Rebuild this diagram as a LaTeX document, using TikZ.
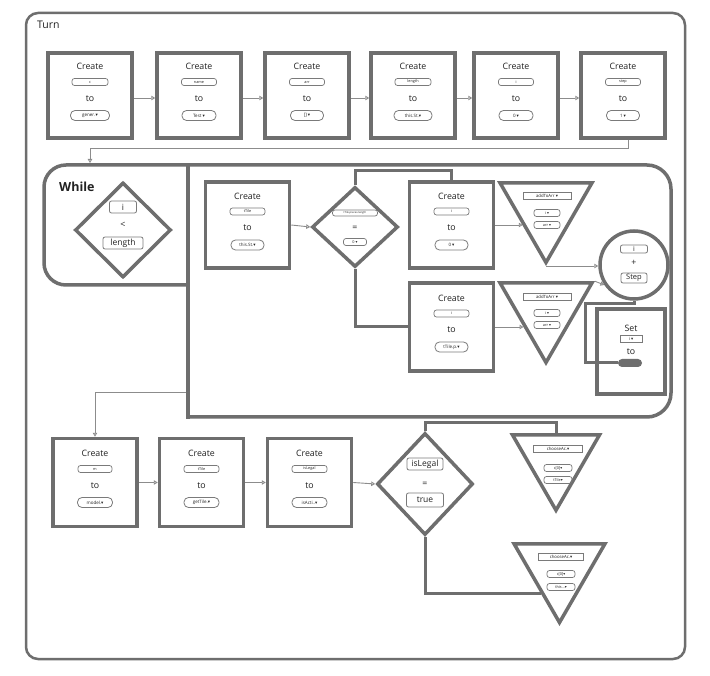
\documentclass[tikz,border=0pt]{standalone}
\usepackage{fontspec}
\setmainfont{Open Sans}
\newfontfamily\symf{DejaVu Sans}
\usetikzlibrary{shapes.geometric,arrows.meta,calc}
\newcommand\dd{{\symf\char"25BE}}
\definecolor{bd}{HTML}{6E6E6E}
\definecolor{cn}{HTML}{8C8C8C}
\definecolor{pl}{HTML}{7A7A7A}
\definecolor{tx}{HTML}{222222}
\tikzset{
 blk/.style={draw=bd, line width=3.5pt, minimum width=84pt, minimum height=86pt, inner sep=0pt, fill=white},
 lbl/.style={font=\fontsize{8.8}{10}\selectfont, inner sep=0pt, text=tx},
 vp/.style={draw=pl, line width=0.7pt, rounded corners=2.5pt, minimum width=#1, minimum height=7pt, inner sep=0pt, font=\fontsize{3.8}{4}\selectfont, text=tx},
 lp/.style={draw=pl, line width=0.8pt, rounded corners=4.5pt, minimum width=#1, minimum height=10pt, inner sep=0pt, font=\fontsize{4.5}{5}\selectfont, text=tx},
 bx/.style={draw=pl, line width=0.6pt, minimum width=#1, minimum height=7pt, inner sep=0pt, font=\fontsize{4.3}{4.5}\selectfont, text=tx},
 mp/.style={draw=pl, line width=0.8pt, rounded corners=2pt, minimum width=#1, minimum height=12pt, inner sep=0pt, font=\fontsize{8.5}{9}\selectfont, text=tx},
 dia/.style={diamond, draw=bd, line width=3.5pt, inner sep=0pt, fill=white},
 tri/.style={regular polygon, regular polygon sides=3, shape border rotate=180, draw=bd, line width=3.5pt, inner sep=0pt, fill=white},
 conn/.style={draw=cn, line width=0.9pt, -{Triangle[open,length=4pt,width=4.5pt]}},
 thk/.style={draw=bd, line width=3pt},
 wall/.style={draw=bd, line width=3.5pt, line cap=rect},
}
\newcommand\mkcreate[8]{%
 \node[blk, minimum height=#8] (#1) at (#2,#3) {};
 \node[lbl] (#1h) at (#2,#3-29) {Create};
 \node[vp=#6] (#1v) at (#2,#3-13.5) {#4};
 \node[lbl] (#1t) at (#2,#3+3) {to};
 \node[lp=#7] (#1w) at (#2,#3+20) {#5};
}
\begin{document}
\begin{tikzpicture}[x=1pt,y=-1pt]
\useasboundingbox (0,0) rectangle (710,676);
\fill[white] (0,0) rectangle (710,676);
% Turn frame
\node[draw=bd, line width=2.5pt, rounded corners=12pt, minimum width=659pt, minimum height=646pt, inner sep=0pt] (turn) at (355.5,336) {};
\node[anchor=west, inner sep=0pt, font=\fontsize{10.5}{12}\selectfont, text=tx] (turnl) at (37,25) {Turn};
% top row
\mkcreate{b1}{90}{95.5}{c}{gener.\dd}{36pt}{39pt}{85pt}
\mkcreate{b2}{199}{95.5}{name}{Test \dd}{35pt}{34pt}{85pt}
\mkcreate{b3}{307}{95.5}{arr}{[] \dd}{35pt}{33pt}{85pt}
\mkcreate{b4}{413}{95.5}{length}{this.St.\dd}{36pt}{38pt}{85pt}
\mkcreate{b5}{516}{95.5}{i}{0 \dd}{35pt}{34pt}{85pt}
\mkcreate{b6}{623}{95.5}{step}{1 \dd}{35pt}{33pt}{85pt}
\draw[conn] ([yshift=-2.5pt]b1.east) -- ([yshift=-2.5pt]b2.west);
\draw[conn] ([yshift=-2.5pt]b2.east) -- ([yshift=-2.5pt]b3.west);
\draw[conn] ([yshift=-2.5pt]b3.east) -- ([yshift=-2.5pt]b4.west);
\draw[conn] ([yshift=-2.5pt]b4.east) -- ([yshift=-2.5pt]b5.west);
\draw[conn] ([yshift=-2.5pt]b5.east) -- ([yshift=-2.5pt]b6.west);
% While block
\coordinate (wtop) at (90,163);
\coordinate (wexit) at (186,392);
\draw[wall, rounded corners=22pt] (188,285) -- (44,285) -- (44,165) -- (188,165);
\draw[wall, rounded corners=24pt] (188,165) -- (671,165) -- (671,417) -- (188,417);
\draw[wall] (188,165) -- (188,417);
\draw[conn] ([xshift=5pt]b6.south) -- ++(0,9) -| (wtop);
\node[anchor=west, inner sep=0pt, font=\bfseries\fontsize{12.5}{14}\selectfont, text=tx] (wl) at (59,187) {While};
\node[dia, minimum width=96pt, minimum height=95pt] (d1) at (123,230) {};
\node[mp=27pt] (d1a) at (123,207) {i};
\node[lbl] (d1b) at (123,225) {<};
\node[mp=40pt] (d1c) at (123,243) {length};
% inside while
\mkcreate{c0}{247.5}{225}{tTile}{this.St.\dd}{35pt}{33pt}{86pt}
\node[dia, minimum width=86pt, minimum height=80pt] (d2) at (355,227) {};
\node[vp=45pt, minimum height=6pt, font=\fontsize{2.7}{3}\selectfont] (d2a) at (355,213) {tTile.pieces.length};
\node[lbl] (d2b) at (355,228) {=};
\node[vp=23pt] (d2c) at (355,242) {0 \dd};
\draw[conn] (c0.east) -- (d2.west);
\mkcreate{c1}{451.5}{225}{i}{0 \dd}{35pt}{33pt}{86pt}
\mkcreate{c2}{451.5}{327}{i}{tTile.p.\dd}{35pt}{33pt}{88pt}
\draw[thk] (d2.north) -- ++(0,-15) -| (c1.north);
\draw[thk] (d2.south) |- (c2.west);
\node[tri, minimum size=106pt] (t1) at (546,209.5) {};
\node[bx=48pt] (t1a) at (547,196) {addToArr \dd};
\node[vp=26pt] (t1b) at (547,213) {i \dd};
\node[vp=26pt] (t1c) at (547,225) {arr \dd};
\node[tri, minimum size=106pt] (t2) at (546,309.5) {};
\node[bx=48pt] (t2a) at (547,297) {addToArr \dd};
\node[vp=26pt] (t2b) at (547,313) {i \dd};
\node[vp=26pt] (t2c) at (547,325) {arr \dd};
\draw[conn] (c1.east) -- (c1.east -| t1.215);
\draw[conn] (c2.east) -- (c2.east -| t2.218);
\node[circle, draw=bd, line width=3.5pt, minimum size=68pt, inner sep=0pt, fill=white] (ci) at (634,265) {};
\node[mp=27pt, minimum height=8pt, font=\fontsize{7}{8}\selectfont] (cia) at (634,249) {i};
\node[lbl] (cib) at (634,263) {+};
\node[mp=26pt, minimum height=10pt, font=\fontsize{7.5}{8}\selectfont] (cic) at (634,278) {Step};
\draw[conn] (t1.corner 1) -- (t1.corner 1 -| ci.west);
\draw[conn] (t2.corner 2) -- (ci.214);
\node[blk, minimum width=68pt, minimum height=85pt] (sb) at (631,351.5) {};
\node[lbl] (sba) at (631,328) {Set};
\node[bx=22pt] (sbb) at (631,339) {i \dd};
\node[lbl] (sbc) at (631,352) {to};
\node[fill=bd, rounded corners=4pt, minimum width=24pt, minimum height=8pt, inner sep=0pt] (sp) at (630,363) {};
\draw[thk] (ci.south) -- ++(0,3) -| ([xshift=-32pt]sp.west) -- (sp.west);
% bottom row
\mkcreate{e1}{95}{482.5}{m}{model.\dd}{34pt}{35pt}{88pt}
\mkcreate{e2}{201.5}{482.5}{tTile}{getTile.\dd}{35pt}{35pt}{88pt}
\mkcreate{e3}{309.5}{482.5}{isLegal}{isActi..\dd}{35pt}{35pt}{88pt}
\draw[conn] (wexit) -| (e1.north);
\draw[conn] (e1.east) -- (e2.west);
\draw[conn] (e2.east) -- (e3.west);
\node[dia, minimum width=96pt, minimum height=102pt] (d3) at (425,484) {};
\node[mp=36pt] (d3a) at (425,464) {isLegal};
\node[lbl] (d3b) at (425,484) {=};
\node[mp=37pt, minimum height=14pt] (d3c) at (425,500) {true};
\draw[conn] (e3.east) -- (d3.west);
\node[tri, minimum size=100.5pt] (t3) at (556,460) {};
\node[bx=49pt, minimum height=6.5pt] (t3a) at (558,449) {chooseAc.\dd};
\node[vp=28pt] (t3b) at (558,468) {c[0]\dd};
\node[vp=28pt] (t3c) at (558,480) {tTile\dd};
\node[tri, minimum size=105pt] (t4) at (559.5,570) {};
\node[bx=45pt, minimum height=6.5pt] (t4a) at (561,557) {chooseAc.\dd};
\node[vp=28pt] (t4b) at (561,574) {c[0]\dd};
\node[vp=28pt] (t4c) at (561,587) {this...\dd};
\draw[thk] (d3.north) -- ++(0,-9) -| (t3.north);
\draw[thk] (d3.south) |- (t4.231);
\end{tikzpicture}
\end{document}
